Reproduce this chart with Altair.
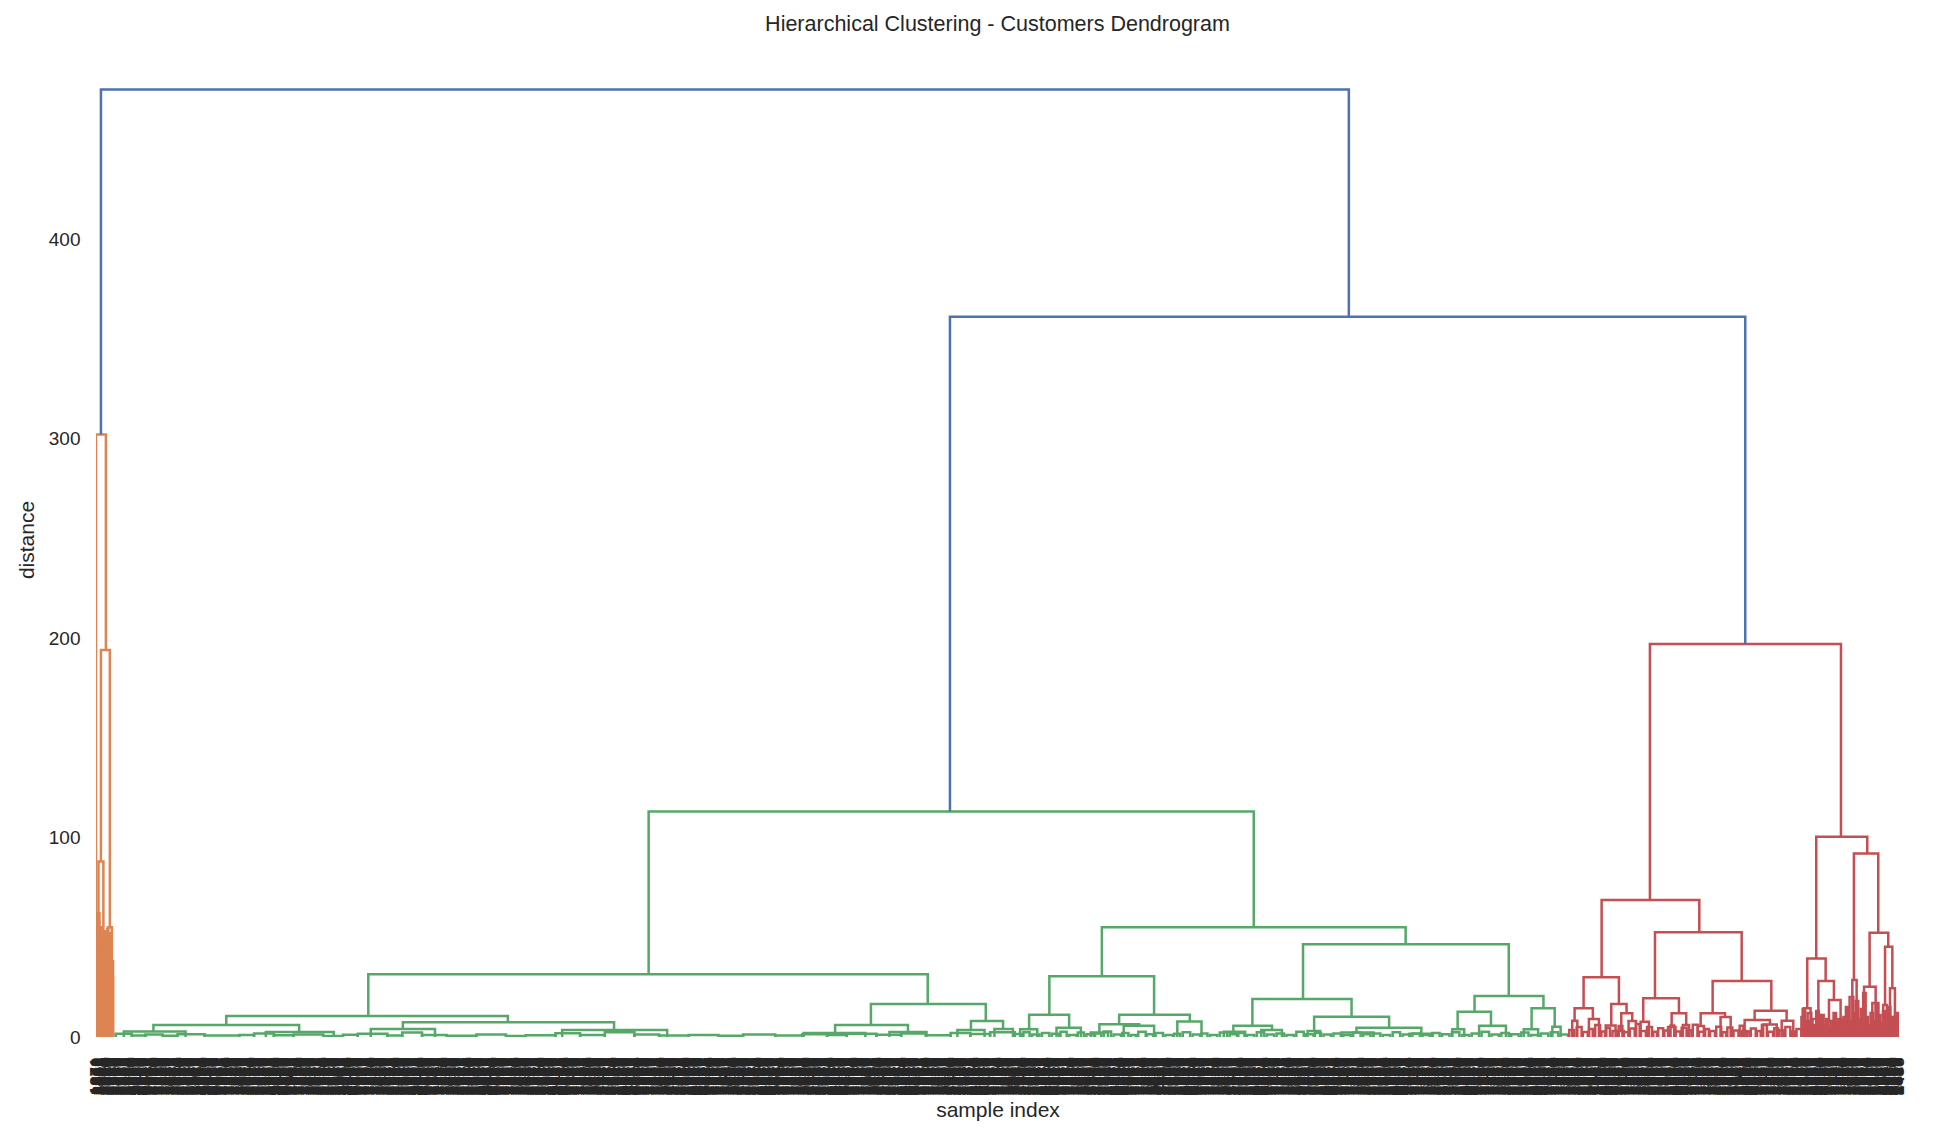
import altair as alt
import pandas as pd

N_LEAVES = 730          # leaf slots along the x axis (sample positions)
LABELS_PER_SLOT = 3     # leaf labels drawn per slot (the leaves are denser than the slots)
Y_MAX = 498.75          # 1.05 * highest merge distance

CLUSTERS = ["C0", "C1", "C2", "C3"]
CLUSTER_COLORS = ["#4C72B0", "#DD8452", "#55A868", "#C44E52"]

# links: (left x, right x, merge distance, left child distance, right child distance)
blue_links = [
    (2.0, 507.25, 475.0, 302.0, 361.0),
    (345.75, 667.75, 361.0, 113.0, 197.0),
]

orange_links = [
    (0.0, 4.0, 302.0, 0.0, 194.0),
    (2.0, 5.6, 194.0, 88.0, 55.0),
    (1.0, 3.0, 88.0, 62.0, 37.0),
    (0.6, 1.4, 62.0, 30.0, 45.0),
    (2.6, 3.4, 37.0, 20.0, 25.0),
    (4.8, 6.4, 55.0, 40.0, 30.0),
    (0.4, 0.8, 30.0, 0.0, 0.0),
    (1.2, 1.6, 45.0, 0.0, 0.0),
    (2.3, 2.9, 20.0, 0.0, 0.0),
    (3.1, 3.7, 25.0, 0.0, 0.0),
    (4.3, 5.3, 40.0, 0.0, 0.0),
    (5.9, 6.9, 30.0, 0.0, 0.0),
]

orange_fuzz = [
    (0.3, 0.7, 52.0), (0.9, 1.3, 58.0), (1.5, 1.9, 48.0), (1.8, 2.2, 55.0),
    (2.2, 2.6, 44.0), (2.7, 3.1, 50.0), (3.3, 3.7, 46.0), (3.6, 4.0, 53.0),
    (4.0, 4.4, 49.0), (4.6, 5.0, 54.0), (5.1, 5.5, 47.0), (5.4, 5.8, 52.0),
    (6.0, 6.4, 45.0), (6.5, 6.9, 38.0),
]

green_links = [
    (223.75, 468.75, 113.0, 31.5, 55.0),
    (110.25, 336.75, 31.5, 10.5, 16.5),
    (52.75, 166.75, 10.5, 6.0, 7.4),
    (23.25, 82.25, 6.0, 2.7, 2.5),
    (11.25, 36.25, 2.7, 0.0, 0.0),
    (68.75, 96.25, 2.5, 0.0, 0.0),
    (124.25, 209.75, 7.4, 4.0, 3.5),
    (111.25, 137.25, 4.0, 0.0, 0.0),
    (188.75, 231.25, 3.5, 0.0, 0.0),
    (313.75, 360.25, 16.5, 6.0, 8.0),
    (299.25, 328.75, 6.0, 2.0, 2.5),
    (286.5, 311.5, 2.0, 0.0, 0.0),
    (321.25, 336.25, 2.5, 0.0, 0.0),
    (354.25, 367.25, 8.0, 3.5, 4.0),
    (348.75, 359.75, 3.5, 0.0, 0.0),
    (363.75, 371.25, 4.0, 0.0, 0.0),
    (407.25, 530.25, 55.0, 30.5, 46.5),
    (386.0, 428.4, 30.5, 11.2, 11.2),
    (377.8, 394.0, 11.2, 3.9, 4.6),
    (374.15, 381.1, 3.9, 0.0, 0.0),
    (388.9, 398.75, 4.6, 0.0, 0.0),
    (414.25, 442.85, 11.2, 6.4, 7.8),
    (406.25, 422.35, 6.4, 2.3, 5.6),
    (402.75, 409.75, 2.3, 0.0, 0.0),
    (416.1, 428.4, 5.6, 0.0, 0.0),
    (437.8, 447.6, 7.8, 0.0, 0.0),
    (488.7, 572.0, 46.5, 19.0, 20.5),
    (468.2, 508.35, 19.0, 5.7, 10.1),
    (460.5, 476.15, 5.7, 2.6, 3.5),
    (456.6, 465.25, 2.6, 0.0, 0.0),
    (471.8, 480.15, 3.5, 0.0, 0.0),
    (493.2, 523.55, 10.1, 3.0, 4.6),
    (490.55, 495.65, 3.0, 0.0, 0.0),
    (510.35, 536.6, 4.6, 2.2, 1.6),
    (504.25, 517.25, 2.2, 0.0, 0.0),
    (531.75, 541.25, 1.6, 0.0, 0.0),
    (558.15, 586.05, 20.5, 12.6, 14.4),
    (551.3, 564.8, 12.6, 3.9, 5.7),
    (549.15, 553.95, 3.9, 0.0, 0.0),
    (560.0, 570.85, 5.7, 0.0, 0.0),
    (581.25, 590.6, 14.4, 3.9, 5.1),
    (578.05, 583.9, 3.9, 0.0, 0.0),
    (589.65, 593.0, 5.1, 0.0, 0.0),
]

# lowest merges (left x, right x, distance), children at 0
green_fuzz = [
    (8.0, 14.5, 1.6), (14.5, 20.0, 0.8), (20.0, 27.0, 1.2), (27.0, 33.0, 0.6),
    (33.0, 44.0, 1.4), (44.0, 58.0, 0.7), (58.0, 64.0, 1.0), (64.0, 72.0, 1.8),
    (72.0, 80.0, 0.9), (80.0, 92.0, 1.3), (92.0, 100.0, 0.5), (100.0, 106.0, 1.1),
    (106.0, 118.0, 1.6), (118.0, 124.0, 0.8), (124.0, 132.0, 2.2), (132.0, 142.0, 1.0),
    (142.0, 154.0, 0.6), (154.0, 166.0, 1.2), (166.0, 174.0, 0.5), (174.0, 186.0, 0.9),
    (186.0, 196.0, 1.9), (196.0, 206.0, 1.0), (206.0, 218.0, 2.4), (218.0, 228.0, 1.3),
    (228.0, 240.0, 0.7), (240.0, 252.0, 1.0), (252.0, 262.0, 0.6), (262.0, 275.0, 1.2),
    (275.0, 286.0, 0.8), (286.0, 296.0, 1.4), (296.0, 304.0, 1.0), (304.0, 316.0, 1.6),
    (316.0, 326.0, 1.1), (326.0, 336.0, 1.8), (336.0, 346.0, 0.9), (346.0, 354.0, 2.0),
    (354.0, 362.0, 1.5), (362.0, 372.0, 2.4),
    (372.0, 375.0, 1.5), (375.5, 378.0, 2.4), (379.0, 382.0, 1.2), (383.0, 386.0, 2.0),
    (387.0, 390.0, 1.6), (390.5, 393.0, 2.6), (394.0, 397.0, 1.0), (397.5, 400.0, 2.2),
    (401.0, 404.0, 1.4), (404.5, 407.0, 1.8), (408.0, 411.0, 2.8), (412.0, 415.0, 1.2),
    (415.5, 418.0, 2.0), (419.0, 421.0, 1.0), (422.0, 425.0, 2.6), (425.5, 428.0, 1.4),
    (429.0, 432.0, 2.0), (433.0, 436.0, 1.0), (436.5, 439.0, 1.6), (440.0, 443.0, 2.4),
    (444.0, 447.0, 1.2), (447.5, 450.0, 1.8), (451.0, 454.0, 1.0), (455.0, 458.0, 2.2),
    (459.0, 462.0, 1.4), (462.5, 465.0, 2.0), (466.0, 469.0, 1.0), (470.0, 473.0, 2.4),
    (474.0, 477.0, 1.2), (478.0, 481.0, 1.8), (482.0, 485.0, 1.0), (486.0, 489.0, 2.6),
    (490.0, 493.0, 1.4), (493.5, 496.0, 2.0), (497.0, 500.0, 1.2), (501.0, 504.0, 1.8),
    (505.0, 508.0, 1.0), (509.0, 512.0, 2.2), (513.0, 516.0, 1.4), (517.0, 520.0, 1.8),
    (521.0, 524.0, 1.0), (525.0, 528.0, 2.4), (529.0, 532.0, 1.2), (533.0, 536.0, 1.8),
    (537.0, 540.0, 1.0), (541.0, 544.0, 2.0), (545.0, 548.0, 1.4), (549.0, 552.0, 2.4),
    (553.0, 556.0, 1.0), (557.0, 560.0, 1.8), (561.0, 564.0, 2.6), (565.0, 568.0, 1.2),
    (569.0, 572.0, 2.0), (573.0, 576.0, 1.4), (577.0, 580.0, 2.2), (581.0, 584.0, 1.0),
    (585.0, 588.0, 1.8), (589.0, 592.0, 2.4), (593.0, 596.0, 1.2),
]

red_links = [
    (629.15, 706.5, 197.0, 68.7, 100.4),
    (609.6, 649.15, 68.7, 29.9, 52.5),
    (602.3, 616.6, 29.9, 14.4, 16.5),
    (598.65, 606.05, 14.4, 8.2, 9.0),
    (597.7, 599.75, 8.2, 0.0, 0.0),
    (604.45, 608.5, 9.0, 0.0, 0.0),
    (613.5, 619.7, 16.5, 5.8, 11.9),
    (611.25, 615.25, 5.8, 0.0, 0.0),
    (617.55, 622.0, 11.9, 3.0, 8.0),
    (616.5, 618.6, 3.0, 0.0, 0.0),
    (620.5, 623.5, 8.0, 0.0, 0.0),
    (631.2, 666.3, 52.5, 19.4, 28.1),
    (626.45, 640.9, 19.4, 7.7, 11.9),
    (625.4, 628.75, 7.7, 0.0, 0.0),
    (637.95, 643.85, 11.9, 5.0, 6.0),
    (636.5, 639.5, 5.0, 0.0, 0.0),
    (642.5, 645.0, 6.0, 0.0, 0.0),
    (654.55, 678.3, 28.1, 11.9, 13.2),
    (649.7, 659.55, 11.9, 5.5, 10.0),
    (648.5, 651.0, 5.5, 0.0, 0.0),
    (657.75, 661.85, 10.0, 0.0, 0.0),
    (671.55, 684.5, 13.2, 8.5, 8.2),
    (667.5, 677.75, 8.5, 3.0, 6.3),
    (666.5, 668.5, 3.0, 0.0, 0.0),
    (675.0, 680.5, 6.3, 0.0, 0.0),
    (682.5, 687.2, 8.2, 0.0, 0.0),
    (696.5, 717.15, 100.4, 39.4, 92.0),
    (692.85, 700.3, 39.4, 14.4, 28.1),
    (691.5, 694.2, 14.4, 0.0, 0.0),
    (697.35, 703.65, 28.1, 11.0, 18.5),
    (696.5, 698.2, 11.0, 0.0, 0.0),
    (701.65, 706.35, 18.5, 8.0, 8.5),
    (700.8, 702.5, 8.0, 0.0, 0.0),
    (705.5, 707.2, 8.5, 0.0, 0.0),
    (711.75, 721.6, 92.0, 28.6, 52.3),
    (711.1, 712.85, 28.6, 0.0, 0.0),
    (718.1, 725.65, 52.3, 25.2, 45.3),
    (715.85, 720.55, 25.2, 8.0, 17.0),
    (715.0, 716.7, 8.0, 0.0, 0.0),
    (719.2, 721.65, 17.0, 0.0, 0.0),
    (724.35, 727.3, 45.3, 16.0, 24.4),
    (723.6, 725.1, 16.0, 0.0, 0.0),
    (726.35, 728.35, 24.4, 4.0, 10.0),
    (725.8, 726.9, 4.0, 0.0, 0.0),
    (727.8, 728.9, 10.0, 0.0, 0.0),
]

red_fuzz = [
    (596.5, 598.5, 3.5), (599.5, 601.5, 5.0), (602.0, 604.0, 2.5), (604.5, 606.0, 4.0),
    (607.0, 609.0, 6.0), (609.5, 611.0, 2.8), (611.5, 613.0, 4.5), (614.0, 616.0, 3.0),
    (616.5, 618.0, 5.5), (618.5, 620.5, 2.4), (621.0, 623.0, 4.2), (623.5, 625.0, 6.5),
    (625.5, 627.5, 3.0), (628.0, 630.0, 5.0), (630.5, 632.0, 2.6), (632.5, 634.5, 4.4),
    (635.0, 637.0, 3.2), (637.5, 639.0, 5.8), (639.5, 641.5, 2.8), (642.0, 644.0, 4.6),
    (644.5, 646.0, 3.4), (646.5, 648.5, 6.2), (649.0, 651.0, 2.6), (651.5, 653.0, 4.0),
    (653.5, 655.5, 3.0), (656.0, 658.0, 5.2), (658.5, 660.0, 2.4), (660.5, 662.5, 4.8),
    (663.0, 665.0, 3.2), (665.5, 667.0, 5.6), (667.5, 669.5, 2.8), (670.0, 672.0, 4.2),
    (672.5, 674.0, 3.0), (674.5, 676.5, 6.0), (677.0, 679.0, 2.6), (679.5, 681.0, 4.4),
    (681.5, 683.5, 3.4), (684.0, 686.0, 5.0), (686.5, 688.0, 2.8), (688.5, 690.5, 4.0),
    (690.5, 691.5, 10.0), (691.0, 692.0, 14.0), (692.5, 693.5, 8.0), (693.0, 694.5, 12.0),
    (694.5, 695.5, 6.0), (695.0, 696.5, 9.0), (696.5, 697.5, 13.0), (697.5, 698.5, 7.0),
    (698.5, 699.5, 11.0), (699.5, 700.5, 6.0), (700.5, 701.5, 9.0), (701.5, 702.5, 5.0),
    (702.5, 703.5, 8.0), (703.5, 704.5, 12.0), (704.5, 705.5, 7.0), (705.5, 706.5, 9.0),
    (706.5, 707.5, 6.0), (707.5, 708.5, 10.0), (708.5, 709.5, 15.0), (709.5, 710.5, 8.0),
    (710.0, 711.5, 20.0), (711.5, 712.5, 12.0), (712.5, 713.5, 18.0), (713.5, 714.5, 9.0),
    (714.5, 715.5, 14.0), (715.5, 716.5, 22.0), (716.5, 717.5, 10.0), (717.5, 718.5, 6.0),
    (718.5, 719.5, 12.0), (719.5, 720.5, 8.0), (720.5, 721.5, 16.0), (721.5, 722.5, 11.0),
    (722.5, 723.5, 7.0), (723.5, 724.5, 13.0), (724.5, 725.5, 9.0), (725.5, 726.5, 15.0),
    (726.5, 727.5, 10.0), (727.5, 728.5, 6.0), (728.5, 729.5, 12.0),
]

# leaf labels (sample indices in dendrogram leaf order)
N_LABELS = N_LEAVES * LABELS_PER_SLOT
leaf_labels = [str((k * 2909 + 1871) % 4338) for k in range(N_LABELS)]
leaf_positions = [(k + 0.5) / LABELS_PER_SLOT for k in range(N_LABELS)]
y_ticks = [0, 100, 200, 300, 400]

TITLE = "Hierarchical Clustering - Customers Dendrogram"
X_TITLE = "sample index"
Y_TITLE = "distance"

# ---- build the long table of link polylines ----
rows = []
link_id = 0


def add_links(links, cluster):
    global link_id
    for xl, xr, h, hl, hr in links:
        pts = [(xl, hl), (xl, h), (xr, h), (xr, hr)]
        for k, (x, y) in enumerate(pts):
            rows.append({"link": link_id, "k": k, "x": x, "y": y, "cluster": cluster})
        link_id += 1


add_links([(a, b, h, 0.0, 0.0) for a, b, h in orange_fuzz], "C1")
add_links(orange_links, "C1")
add_links([(a, b, h, 0.0, 0.0) for a, b, h in green_fuzz], "C2")
add_links(green_links, "C2")
add_links([(a, b, h, 0.0, 0.0) for a, b, h in red_fuzz], "C3")
add_links(red_links, "C3")
add_links(blue_links, "C0")

df = pd.DataFrame(rows)

label_expr = (
    "[" + ",".join("'%s'" % s for s in leaf_labels) + "]"
    + "[floor(datum.value * %d)]" % LABELS_PER_SLOT
)

TXT = "#262626"
FONT = "Liberation Sans"

chart = (
    alt.Chart(df)
    .mark_line(strokeWidth=2.5, clip=True, strokeJoin="miter")
    .encode(
        x=alt.X(
            "x:Q",
            scale=alt.Scale(domain=[0, N_LEAVES], nice=False, zero=False),
            axis=alt.Axis(
                values=leaf_positions,
                labelExpr=label_expr,
                labelAngle=270,
                labelFontSize=17,
                labelFont=FONT,
                labelFontWeight="bold",
                labelColor=TXT,
                labelOverlap=False,
                labelFlush=False,
                labelBound=False,
                labelPadding=20,
                ticks=False,
                tickSize=0,
                domain=False,
                grid=False,
                title=X_TITLE,
                titleFont=FONT,
                titleFontSize=21,
                titleFontWeight="normal",
                titleColor=TXT,
                titleY=73,
                titleBaseline="middle",
            ),
        ),
        y=alt.Y(
            "y:Q",
            scale=alt.Scale(domain=[0, Y_MAX], nice=False, zero=True),
            axis=alt.Axis(
                values=y_ticks,
                format="d",
                labelFontSize=19,
                labelFont=FONT,
                labelColor=TXT,
                labelPadding=16,
                ticks=False,
                tickSize=0,
                domain=False,
                grid=False,
                title=Y_TITLE,
                titleFont=FONT,
                titleFontSize=21,
                titleFontWeight="normal",
                titleColor=TXT,
                titleX=-69,
                titleY=497.5,
                titleAngle=270,
                titleAlign="center",
                titleBaseline="middle",
            ),
        ),
        detail="link:N",
        order="k:Q",
        color=alt.Color(
            "cluster:N",
            scale=alt.Scale(domain=CLUSTERS, range=CLUSTER_COLORS),
            legend=None,
        ),
    )
    .properties(
        width=1803,
        height=995,
        autosize=alt.AutoSizeParams(type="none"),
        padding={"left": 96, "top": 42, "right": 37, "bottom": 103},
        title=alt.TitleParams(
            TITLE,
            font=FONT,
            fontSize=21.5,
            fontWeight="normal",
            color=TXT,
            anchor="middle",
            frame="group",
            offset=11,
            baseline="alphabetic",
            dy=21,
        ),
        background="white",
    )
    .configure_view(strokeWidth=0)
)

chart.save("out.html", embed_options={"renderer": "svg", "actions": False})
